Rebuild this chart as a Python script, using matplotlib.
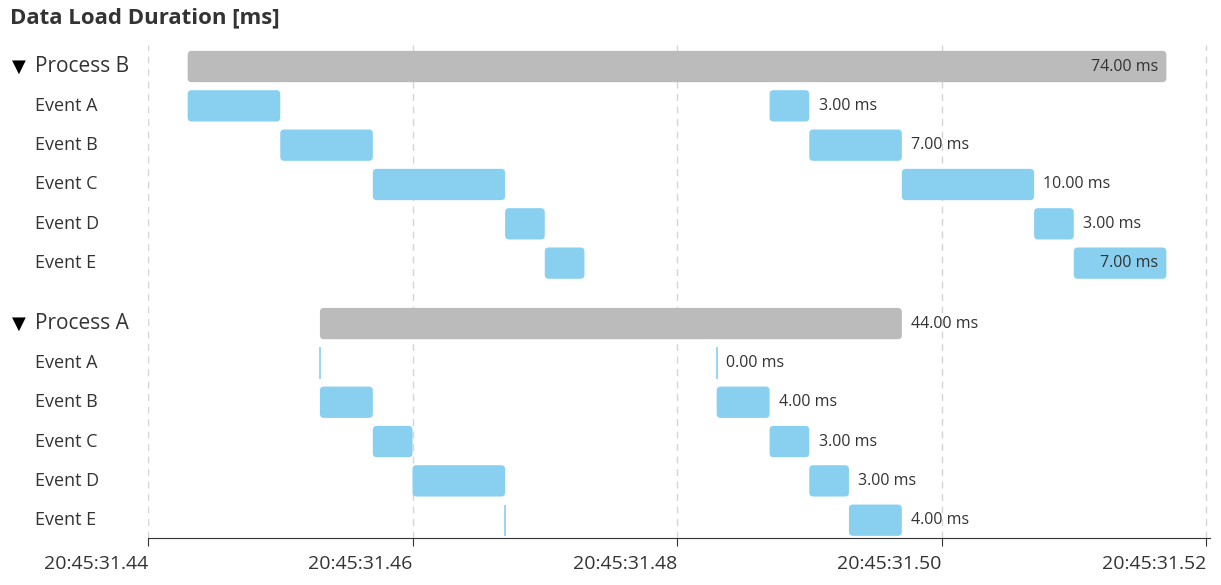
import matplotlib
matplotlib.use("Agg")
import matplotlib.pyplot as plt
from matplotlib.patches import FancyBboxPatch
from matplotlib.transforms import blended_transform_factory

plt.rcParams['font.family'] = ['Open Sans', 'DejaVu Sans']

# times in ms after 20:45:31.44
tick_vals = [0, 20, 40, 60, 80]
tick_labels = ["20:45:31.44", "20:45:31.46", "20:45:31.48", "20:45:31.50", "20:45:31.52"]

groups = ["Process B", "Process A"]
events = ["Event A", "Event B", "Event C", "Event D", "Event E"]
proc_start = [3, 13]
proc_dur = [74, 44]
# each event occurs twice: (start, duration)
evB_first = [(3, 7), (10, 7), (17, 10), (27, 3), (30, 3)]
evB_second = [(47, 3), (50, 7), (57, 10), (67, 3), (70, 7)]
evA_first = [(13, 0), (13, 4), (17, 3), (20, 7), (27, 0)]
evA_second = [(43, 0), (43, 4), (47, 3), (50, 3), (53, 4)]
ev_first = [evB_first, evA_first]
ev_second = [evB_second, evA_second]

BLUE = "#89CFF0"
GRAY = "#BBBBBB"

fig = plt.figure(figsize=(12.21, 5.85), dpi=100)
ax = fig.add_axes([148/1221, 1-538/585, 1062/1221, (538-45)/585])
ax.set_xlim(0, 80.3)
ax.set_ylim(12.05, -0.55)

def bar(x, w, y, color):
    if w == 0:
        ax.plot([x, x], [y-0.4, y+0.4], color=color, lw=1.2, solid_capstyle='butt')
        return
    p = FancyBboxPatch((x, y-0.4), w, 0.8, boxstyle="round,pad=0,rounding_size=0.3",
                       mutation_aspect=0.34, facecolor=color, edgecolor='none')
    ax.add_patch(p)

def label(x_end, y, txt):
    if x_end > 75:
        ax.text(x_end-0.6, y, txt, ha='right', va='center', fontsize=11.5, color='#333333')
    else:
        ax.text(x_end+0.7, y, txt, ha='left', va='center', fontsize=11.5, color='#333333')

tr = blended_transform_factory(ax.transAxes, ax.transData)
bases = [0, 6.57]
for g in range(2):
    y0 = bases[g]
    bar(proc_start[g], proc_dur[g], y0, GRAY)
    label(proc_start[g]+proc_dur[g], y0, f"{proc_dur[g]:.2f} ms")
    ax.text(-0.128, y0, "▼", transform=tr, ha='left', va='center', fontsize=13, family=['DejaVu Sans'])
    ax.text(-0.1064, y0, groups[g], transform=tr, ha='left', va='center', fontsize=15, color='#333333')
    for i, ev in enumerate(events):
        y = y0 + 1.005*(1 + i)
        s1, d1 = ev_first[g][i]
        s2, d2 = ev_second[g][i]
        bar(s1, d1, y, BLUE)
        bar(s2, d2, y, BLUE)
        label(s2+d2, y, f"{d2:.2f} ms")
        ax.text(-0.1064, y, ev, transform=tr, ha='left', va='center', fontsize=13, color='#333333')

ax.set_xticks(tick_vals)
ax.set_xticklabels(tick_labels, fontsize=14, color='#333333', ha='right')
ax.set_yticks([])
ax.grid(axis='x', linestyle=(0, (5, 4)), color='#d5d5d5', lw=1)
ax.set_axisbelow(True)
for s in ['top', 'right', 'left']:
    ax.spines[s].set_visible(False)
ax.spines['bottom'].set_color('#333333')
ax.tick_params(axis='x', length=6, color='#333333', pad=6)

fig.text(10/1221, 1-18/585, "Data Load Duration [ms]", fontsize=16, fontweight='bold',
         ha='left', va='center', color='#333333')
fig.savefig("out.png", dpi=100)
